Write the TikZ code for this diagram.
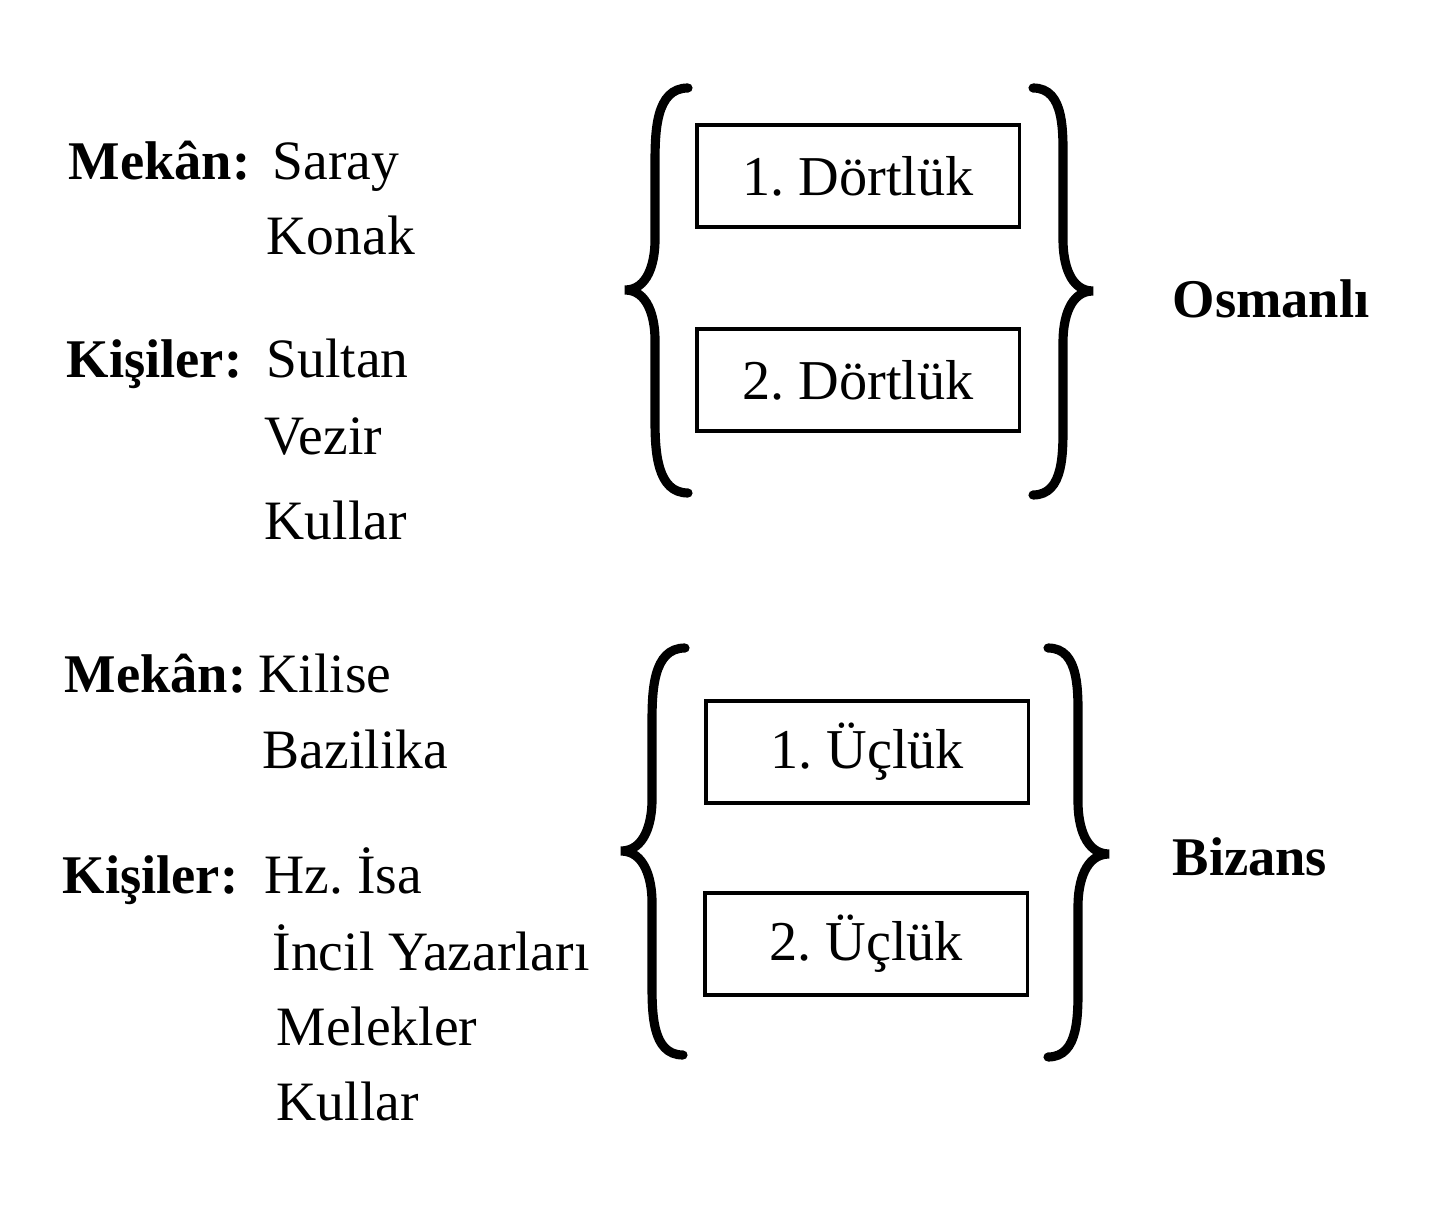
\documentclass[tikz,border=0pt]{standalone}
\usepackage{fontspec}
\setmainfont{Liberation Serif}
\usetikzlibrary{positioning}

\tikzset{
	baslik/.style={anchor=base west, inner sep=0pt, font=\bfseries\fontsize{15.5}{18}\selectfont},
	madde/.style={anchor=base west, inner sep=0pt, font=\fontsize{15.8}{18}\selectfont},
	kutu/.style={draw, line width=0.9pt, minimum width=3.22cm, minimum height=1.02cm, inner sep=0pt, font=\fontsize{16}{18}\selectfont},
	parantez/.style={line width=2.6pt, line cap=round}
}

\begin{document}
\begin{tikzpicture}[x=0.01cm, y=-0.01cm]
		%page frame (pixel coordinates, y downwards)
		\useasboundingbox (0,0) rectangle (1443,1213);
		
		%left column, upper group
		\node [baslik] (mekanA) at (68,180) {Mekân:};
		\node [madde] (saray) at (272,180) {Saray};
		\node [madde] (konak) at (266,255) {Konak};
		\node [baslik] (kisilerA) at (66,378) {Kişiler:};
		\node [madde] (sultan) at (266,378) {Sultan};
		\node [madde] (vezir) at (264,455) {Vezir};
		\node [madde] (kullarA) at (264,540) {Kullar};
		
		%left column, lower group
		\node [baslik] (mekanB) at (64,692) {Mekân:};
		\node [madde] (kilise) at (258,692) {Kilise};
		\node [madde] (bazilika) at (262,768) {Bazilika};
		\node [baslik] (kisilerB) at (62,893) {Kişiler:};
		\node [madde] (isa) at (264,893) {Hz.\ İsa};
		\node [madde] (incil) at (272,970) {İncil Yazarları};
		\node [madde] (melek) at (276,1045) {Melekler};
		\node [madde] (kullarB) at (276,1120) {Kullar};
		
		%stanza boxes
		\node [kutu] (dortlukA) at (858,176) {1.\ Dörtlük};
		\node [kutu] (dortlukB) at (858,380) {2.\ Dörtlük};
		\node [kutu] (uclukA) at (867,752) {1.\ Üçlük};
		\node [kutu] (uclukB) at (866,944) {2.\ Üçlük};
		
		%braces
		\draw [parantez] (688,88) to [out=180, in=90] (655,165) -- (655,240) to [out=-90, in=0] (625,290) to [out=0, in=90] (655,340) -- (655,420) to [out=-90, in=180] (688,493);
		\draw [parantez] (1033,88) to [out=0, in=90] (1063,165) -- (1063,240) to [out=-90, in=180] (1093,291) to [out=180, in=90] (1063,342) -- (1063,420) to [out=-90, in=0] (1033,495);
		
		\draw [parantez] (685,648) to [out=180, in=90] (652,725) -- (652,800) to [out=-90, in=0] (621,851) to [out=0, in=90] (652,902) -- (652,980) to [out=-90, in=180] (683,1055);
		\draw [parantez] (1048,648) to [out=0, in=90] (1078,725) -- (1078,802) to [out=-90, in=180] (1109,854) to [out=180, in=90] (1078,906) -- (1078,982) to [out=-90, in=0] (1048,1057);
		
		%group names
		\node [baslik] (osmanli) at (1172,318) {Osmanlı};
		\node [baslik] (bizans) at (1172,875) {Bizans};
		
	\end{tikzpicture}
\end{document}
